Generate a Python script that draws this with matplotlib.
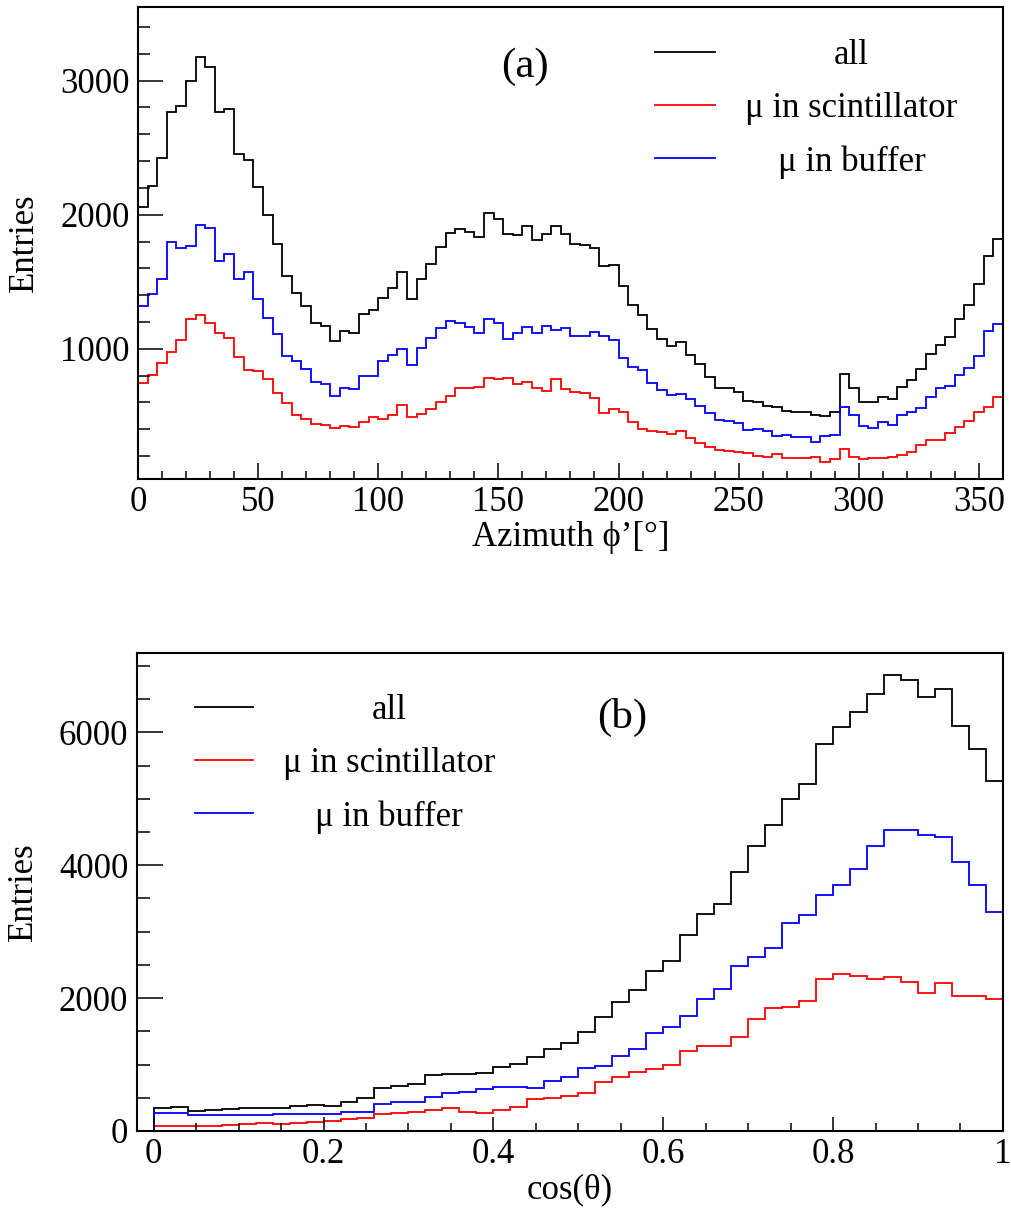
import numpy as np
import matplotlib

matplotlib.use("Agg")
import matplotlib.pyplot as plt
from matplotlib.ticker import MultipleLocator, FuncFormatter

plt.rcParams["font.family"] = ["Liberation Serif", "DejaVu Serif"]

# (a) azimuth, 90 bins of 4 degrees
PHI_EDGES = np.linspace(0, 360, 91)
phi_all = [2060, 2217, 2421, 2769, 2812, 3000, 3172, 3098, 2764, 2789,
           2456, 2404, 2205, 1999, 1780, 1546, 1417, 1320, 1191, 1171,
           1059, 1134, 1121, 1260, 1290, 1382, 1457, 1576, 1372, 1519,
           1632, 1758, 1862, 1892, 1870, 1832, 2011, 1966, 1857, 1847,
           1919, 1812, 1857, 1917, 1855, 1785, 1773, 1753, 1618, 1623,
           1469, 1323, 1253, 1146, 1071, 1022, 1054, 955, 885, 791,
           711, 706, 681, 612, 602, 577, 564, 537, 527, 530,
           507, 497, 527, 813, 706, 607, 602, 644, 629, 718,
           771, 853, 962, 1027, 1089, 1223, 1323, 1482, 1693, 1817]
phi_buffer = [1320, 1405, 1524, 1800, 1750, 1770, 1924, 1904, 1651, 1705,
              1519, 1569, 1370, 1228, 1114, 947, 912, 848, 756, 741,
              649, 711, 704, 798, 796, 912, 952, 997, 880, 1004,
              1081, 1154, 1211, 1196, 1166, 1116, 1226, 1196, 1074, 1116,
              1166, 1116, 1171, 1141, 1158, 1099, 1099, 1126, 1099, 1067,
              935, 863, 845, 743, 694, 656, 661, 629, 577, 522,
              467, 465, 445, 395, 403, 388, 351, 358, 346, 346,
              308, 351, 358, 564, 507, 425, 408, 457, 433, 507,
              527, 557, 639, 711, 723, 808, 855, 950, 1136, 1183]
phi_scint = [745, 808, 897, 975, 1066, 1223, 1250, 1196, 1116, 1084,
             937, 843, 835, 776, 669, 599, 507, 475, 438, 430,
             413, 425, 420, 457, 495, 475, 505, 582, 495, 515,
             552, 607, 651, 706, 711, 718, 786, 773, 786, 738,
             756, 706, 689, 776, 699, 681, 669, 631, 525, 552,
             532, 457, 403, 390, 378, 365, 388, 333, 301, 266,
             246, 241, 229, 221, 204, 196, 216, 184, 189, 189,
             196, 154, 177, 254, 196, 179, 189, 184, 196, 209,
             229, 283, 321, 321, 370, 420, 465, 527, 569, 639]

# (b) cos(theta), one empty bin below 0 then 50 bins of 0.02
COS_EDGES = np.linspace(-0.02, 1.0, 52)
cos_all = [0, 341, 356, 306, 316, 331, 341, 351, 341, 376, 392,
           376, 442, 502, 653, 683, 708, 843, 859, 859, 878,
           959, 1009, 1119, 1235, 1320, 1496, 1722, 1948, 2123, 2400,
           2565, 2952, 3268, 3414, 3896, 4292, 4598, 4995, 5221, 5823,
           6074, 6305, 6576, 6857, 6792, 6526, 6656, 6089, 5748, 5261]
cos_buffer = [0, 266, 276, 236, 236, 236, 241, 246, 256, 261, 256,
              251, 286, 291, 407, 442, 442, 517, 567, 592, 628,
              658, 668, 643, 753, 818, 944, 979, 1130, 1235, 1471,
              1571, 1737, 1983, 2134, 2485, 2625, 2751, 3128, 3253, 3544,
              3705, 3941, 4292, 4533, 4533, 4458, 4423, 4046, 3705, 3288]
cos_scint = [0, 75, 80, 70, 75, 90, 105, 115, 100, 125, 140,
             145, 176, 201, 256, 276, 291, 316, 341, 291, 266,
             316, 356, 477, 492, 532, 567, 743, 818, 894, 929,
             994, 1210, 1280, 1280, 1421, 1682, 1847, 1872, 1963, 2284,
             2365, 2334, 2284, 2324, 2249, 2073, 2234, 2038, 2038, 1983]

LABELS = ["all", "\u03bc in scintillator", "\u03bc in buffer"]
COLORS = ["black", "#ff0000", "#0000ff"]
FS = 25
LW = 1.3


def style_axes(ax, ymaj_len, ymin_len, xmaj_len, xmin_len):
    for sp in ax.spines.values():
        sp.set_linewidth(1.5)
    ax.tick_params(axis="both", which="both", direction="in", top=False,
                   right=False, width=1.1, labelsize=FS)
    ax.tick_params(axis="y", which="major", length=ymaj_len, pad=6)
    ax.tick_params(axis="y", which="minor", length=ymin_len)
    ax.tick_params(axis="x", which="major", length=xmaj_len, pad=5)
    ax.tick_params(axis="x", which="minor", length=xmin_len)


def draw_legend(ax, x0, x1, xt, ys):
    # ROOT-style legend: short line on the left, centred text on the right
    for lab, col, y in zip(LABELS, COLORS, ys):
        ax.plot([x0, x1], [y, y], color=col, lw=LW, transform=ax.transAxes)
        ax.text(xt, y - 0.008, lab, transform=ax.transAxes, ha="center",
                va="center", fontsize=FS)


fig = plt.figure(figsize=(10.11, 12.11), dpi=100)

# ---- panel (a)
ax1 = fig.add_axes([0.1365, 0.6045, 0.8555, 0.3897])
series_a = [phi_all, phi_scint, phi_buffer]
for vals, col in zip(series_a, COLORS):
    ax1.stairs(vals, PHI_EDGES, color=col, lw=LW)
ax1.set_xlim(0, 360)
ax1.set_ylim(30, 3548)
ax1.xaxis.set_major_locator(MultipleLocator(50))
ax1.xaxis.set_minor_locator(MultipleLocator(10))
ax1.yaxis.set_major_locator(MultipleLocator(1000))
ax1.yaxis.set_minor_locator(MultipleLocator(200))
style_axes(ax1, 18, 8.6, 11.5, 5.8)
ax1.set_xlabel("Azimuth \u03d5\u2019[\u00b0]", fontsize=FS, va="center")
ax1.xaxis.set_label_coords(0.5, -0.125)
ax1.set_ylabel("Entries", fontsize=FS, va="center")
ax1.yaxis.set_label_coords(-0.131, 0.5)
ax1.text(0.447, 0.873, "(a)", transform=ax1.transAxes, ha="center",
         va="center", fontsize=31)
draw_legend(ax1, 0.598, 0.667, 0.825, [0.905, 0.792, 0.680])

# ---- panel (b)
ax2 = fig.add_axes([0.1352, 0.0661, 0.8568, 0.3947])
series_b = [cos_all, cos_scint, cos_buffer]
for vals, col in zip(series_b, COLORS):
    ax2.stairs(vals, COS_EDGES, color=col, lw=LW)
ax2.set_xlim(-0.02, 1.0)
ax2.set_ylim(0, 7194)
ax2.xaxis.set_major_locator(MultipleLocator(0.2))
ax2.xaxis.set_minor_locator(MultipleLocator(0.05))
ax2.xaxis.set_major_formatter(FuncFormatter(lambda v, p: f"{v:g}"))
ax2.yaxis.set_major_locator(MultipleLocator(2000))
ax2.yaxis.set_minor_locator(MultipleLocator(500))
style_axes(ax2, 18.7, 9.4, 10, 5.8)
ax2.set_xlabel("cos(\u03b8)", fontsize=FS, va="center")
ax2.xaxis.set_label_coords(0.5, -0.123)
ax2.set_ylabel("Entries", fontsize=FS, va="center")
ax2.yaxis.set_label_coords(-0.131, 0.5)
ax2.text(0.560, 0.866, "(b)", transform=ax2.transAxes, ha="center",
         va="center", fontsize=31)
draw_legend(ax2, 0.067, 0.134, 0.291, [0.887, 0.776, 0.665])

fig.savefig("out.png", dpi=100)
